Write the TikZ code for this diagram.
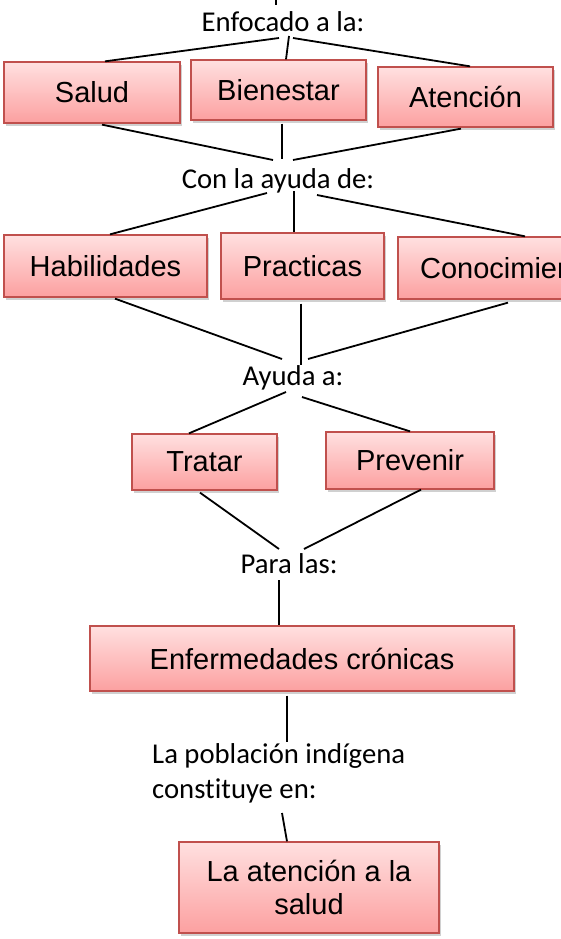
\documentclass[tikz,border=0pt]{standalone}
\usepackage{fontspec}
\setmainfont[Ligatures=NoCommon]{Carlito}
\newfontfamily\boxfont{Liberation Sans}
\usetikzlibrary{shadows}
\definecolor{boxedge}{RGB}{192,80,77}
\definecolor{boxtop}{RGB}{255,224,224}
\definecolor{boxbot}{RGB}{252,160,160}
\begin{document}
\begin{tikzpicture}[x=1pt,y=-1pt,
  box/.style={rectangle, draw=boxedge, line width=1.3pt, top color=boxtop, bottom color=boxbot,
    inner sep=0pt, align=center, text=black, font=\boxfont\fontsize{29}{33}\selectfont,
    drop shadow={shadow xshift=2pt, shadow yshift=-3pt, opacity=0.3, fill=black!60}},
  lbl/.style={inner sep=0pt, text=black, font=\fontsize{28.7}{35}\selectfont},
  conn/.style={line width=1.8pt, draw=black}]
\useasboundingbox (0,0) rectangle (561,939);
\fill[white] (0,0) rectangle (561,939);
\clip (0,0) rectangle (561,939);

% boxes
\node[box, minimum width=176pt, minimum height=61pt] (salud) at (92,92.5) {Salud};
\node[box, minimum width=175pt, minimum height=60pt] (bien) at (278.5,90) {Bienestar};
\node[box, minimum width=175pt, minimum height=60pt] (aten) at (465.5,97) {Atención};
\node[box, minimum width=203pt, minimum height=62pt] (habil) at (105.5,266) {Habilidades};
\node[box, minimum width=163pt, minimum height=66pt] (pract) at (302.5,266) {Practicas};
\node[box, minimum width=236pt, minimum height=62pt] (conoc) at (516,268) {Conocimientos};
\node[box, minimum width=145pt, minimum height=56pt] (tratar) at (204.5,462) {Tratar};
\node[box, minimum width=168pt, minimum height=57pt] (prev) at (410,460.5) {Prevenir};
\node[box, minimum width=424pt, minimum height=65pt] (enf) at (302,658.5) {Enfermedades crónicas};
\node[box, minimum width=260pt, minimum height=91pt] (salud2) at (309,887.5) {La atención a la\\salud};

% labels
\node[lbl, anchor=base] (enfocado) at (283,32) {Enfocado a la:};
\node[lbl, anchor=base] (conayuda) at (278,188) {Con la ayuda de:};
\node[lbl, anchor=base] (ayuda) at (293,385) {Ayuda a:};
\node[lbl, anchor=base] (para) at (289,573) {Para las:};
\node[lbl, anchor=base west, align=left] (pobl) at (152,798) {La población indígena\\constituye en:};

% connector end points next to the labels
\coordinate (top0) at (276,0);
\coordinate (top1) at (276,5);
\coordinate (e1) at (279,38);
\coordinate (e2) at (289,36);
\coordinate (e3) at (293,38);
\coordinate (c1) at (273,160);
\coordinate (c2) at (282,159);
\coordinate (c3) at (293,160);
\coordinate (c4) at (267,193);
\coordinate (c5) at (294,191);
\coordinate (c6) at (317,195);
\coordinate (a1) at (282,359);
\coordinate (a2) at (301,365);
\coordinate (a3) at (308,359);
\coordinate (a4) at (286,392);
\coordinate (a5) at (302,397);
\coordinate (p1) at (279,549);
\coordinate (p2) at (304,549);
\coordinate (p3) at (279,580);
\coordinate (l1) at (287,742);
\coordinate (l2) at (282,813);

% connectors
\draw[conn] (top0) -- (top1);
\draw[conn] (e1) -- ([xshift=13pt]salud.north);
\draw[conn] (e2) -- ([xshift=7.5pt]bien.north);
\draw[conn] (e3) -- ([xshift=4.5pt]aten.north);
\draw[conn] ([xshift=10pt,yshift=-1pt]salud.south) -- (c1);
\draw[conn] ([xshift=3.5pt,yshift=-3pt]bien.south) -- (c2);
\draw[conn] ([xshift=-4.5pt,yshift=-1pt]aten.south) -- (c3);
\draw[conn] (c4) -- ([xshift=4.5pt]habil.north);
\draw[conn] (c5) -- ([xshift=-8.5pt]pract.north);
\draw[conn] (c6) -- ([xshift=9pt]conoc.north);
\draw[conn] ([xshift=9.5pt,yshift=-1pt]habil.south) -- (a1);
\draw[conn] ([xshift=-1.5pt,yshift=-4pt]pract.south) -- (a2);
\draw[conn] ([xshift=-8pt,yshift=-3pt]conoc.south) -- (a3);
\draw[conn] (a4) -- ([xshift=-15.5pt]tratar.north);
\draw[conn] (a5) -- (prev.north);
\draw[conn] ([xshift=-4.5pt,yshift=-2pt]tratar.south) -- (p1);
\draw[conn] ([xshift=11pt]prev.south) -- (p2);
\draw[conn] (p3) -- ([xshift=-23pt]enf.north);
\draw[conn] ([xshift=-15pt,yshift=-4pt]enf.south) -- (l1);
\draw[conn] (l2) -- ([xshift=-22pt]salud2.north);
\end{tikzpicture}
\end{document}
